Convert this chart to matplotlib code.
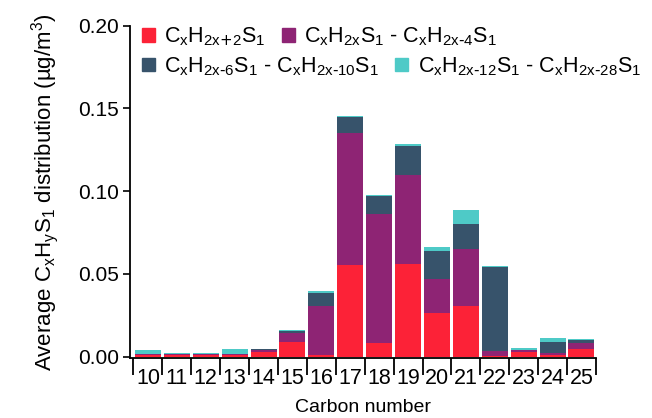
#!/usr/bin/env python3
"""Stacked bars of average CxHyS1 distribution by carbon number."""

import matplotlib
matplotlib.use("Agg")
import matplotlib.pyplot as plt
import matplotlib.patches as mpatches
import numpy as np

plt.rcParams["font.family"] = ["Liberation Sans", "DejaVu Sans"]
plt.rcParams["mathtext.default"] = "regular"

carbon = [10, 11, 12, 13, 14, 15, 16, 17, 18, 19, 20, 21, 22, 23, 24, 25]
alkane = [0.0010, 0.0012, 0.0010, 0.0010, 0.0028, 0.0086, 0.0008, 0.0553,
          0.0080, 0.0559, 0.0265, 0.0307, 0.0005, 0.0029, 0.0009, 0.0047]
mid = [0.0003, 0.0003, 0.0003, 0.0003, 0.0012, 0.0058, 0.0297, 0.0796,
       0.0782, 0.0536, 0.0202, 0.0345, 0.0028, 0.0009, 0.0014, 0.0036]
arom = [0.0002, 0.0001, 0.0001, 0.0001, 0.0003, 0.0008, 0.0079, 0.0097,
        0.0106, 0.0177, 0.0169, 0.0149, 0.0506, 0.0004, 0.0063, 0.0015]
poly = [0.0027, 0.0003, 0.0010, 0.0032, 0.0001, 0.0006, 0.0012, 0.0010,
        0.0006, 0.0012, 0.0024, 0.0083, 0.0010, 0.0007, 0.0026, 0.0010]

# \text{} keeps the hyphen / plus short instead of math operator spacing
series = [
    (alkane, "#fc2237", r"C$_x$H$_{2x\text{+}2}$S$_1$"),
    (mid, "#8e2474", r"C$_x$H$_{2x}$S$_1$ - C$_x$H$_{2x\text{-}4}$S$_1$"),
    (arom, "#37536b", r"C$_x$H$_{2x\text{-}6}$S$_1$ - C$_x$H$_{2x\text{-}10}$S$_1$"),
    (poly, "#4ecac7", r"C$_x$H$_{2x\text{-}12}$S$_1$ - C$_x$H$_{2x\text{-}28}$S$_1$"),
]


def main():
    fig = plt.figure(figsize=(6.52, 4.18), dpi=100)
    ax = fig.add_axes([0.1994, 0.143, 0.7146, 0.7955])

    x = np.array(carbon, dtype=float)
    bottom = np.zeros(len(carbon))
    handles = []
    for vals, color, label in series:
        v = np.array(vals)
        ax.bar(x, v, width=0.9, bottom=bottom, color=color, linewidth=0)
        bottom += v
        handles.append(mpatches.Patch(color=color, label=label))

    ax.set_xlim(9.38, 25.5)
    ax.set_ylim(-0.001, 0.20)

    for side in ("top", "right"):
        ax.spines[side].set_visible(False)
    for side in ("left", "bottom"):
        ax.spines[side].set_linewidth(1.3)

    ax.set_yticks([0.0, 0.05, 0.10, 0.15, 0.20])
    ax.set_yticklabels(["0.00", "0.05", "0.10", "0.15", "0.20"])
    ax.tick_params(axis="y", length=5, width=1.2, labelsize=15, pad=3)

    # boundary ticks without labels, labels centred on the bars
    ax.set_xticks(np.arange(9.5, 26.0, 1.0))
    ax.set_xticklabels([])
    ax.set_xticks(x, minor=True)
    ax.set_xticklabels([str(c) for c in carbon], minor=True)
    ax.tick_params(axis="x", which="major", length=12, width=1.3)
    ax.tick_params(axis="x", which="minor", length=0, labelsize=15.5, pad=7)

    ax.set_xlabel("Carbon number", fontsize=14, labelpad=7)
    ax.set_ylabel(r"Average C$_x$H$_y$S$_1$ distribution (µg/m$^3$)",
                  fontsize=16, labelpad=12)

    common = dict(frameon=False, fontsize=15.5, handlelength=0.6,
                  handleheight=0.6, handletextpad=0.45, columnspacing=0.75,
                  borderaxespad=0, borderpad=0)
    leg1 = ax.legend(handles=handles[:2], ncol=2, loc="upper left",
                     bbox_to_anchor=(0.025, 1.0), **common)
    ax.add_artist(leg1)
    ax.legend(handles=handles[2:], ncol=2, loc="upper left",
              bbox_to_anchor=(0.025, 0.912), **common)

    fig.savefig("out.png", dpi=100, facecolor="white")


if __name__ == "__main__":
    main()
